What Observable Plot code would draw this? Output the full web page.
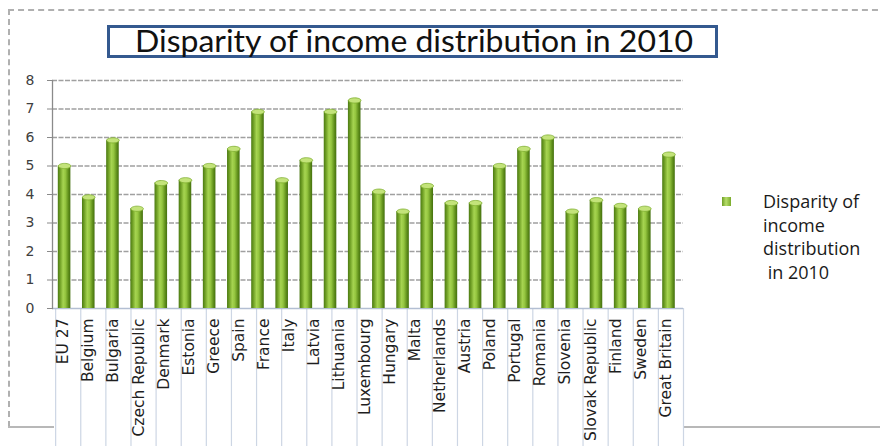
<!DOCTYPE html>
<html>
<head>
<meta charset="utf-8">
<script src="https://cdn.jsdelivr.net/npm/d3@7"></script>
<script src="https://cdn.jsdelivr.net/npm/@observablehq/plot@0.6"></script>
<style>
  body { margin: 0; background: #fff; }
  #wrap { position: relative; width: 880px; height: 446px; overflow: hidden; background: #fff; font-family: "Open Sans", sans-serif; }
  .bd { position: absolute; }
  #bTop { left: 8px; top: 9px; width: 880px; height: 0; border-top: 2px dashed #b0b0b0; }
  #bLeft { left: 8px; top: 9px; width: 0; height: 418px; border-left: 2px dashed #b0b0b0; }
  #bBot1 { left: 8px; top: 426px; width: 46px; height: 0; border-top: 2px solid #b8b8b8; }
  #bBot2 { left: 683px; top: 426px; width: 200px; height: 0; border-top: 2px solid #b8b8b8; }
  #chart { position: absolute; left: 0; top: 0; }
  #title { position: absolute; left: 107px; top: 25px; width: 605px; height: 27px; border: 3px solid #34598f; background: #fff; }
  #title svg { position: absolute; left: 0; top: 0; overflow: visible; }
  #legend { position: absolute; left: 722px; top: 190px; }
  #legend .sw { position: absolute; left: 0; top: 7px; width: 9px; height: 9px; background: linear-gradient(90deg,#6d9e25,#b6dd6a 45%,#7aab2c); }
  #legend .tx { position: absolute; left: 41px; top: 0; width: 150px; font-size: 18px; line-height: 23.5px; color: #1a1a1a; white-space: pre; }
</style>
</head>
<body>
<div id="wrap">
  <div class="bd" id="bTop"></div>
  <div class="bd" id="bLeft"></div>
  <div class="bd" id="bBot1"></div>
  <div class="bd" id="bBot2"></div>
  <div id="chart"></div>
  <div id="title"><svg width="605" height="27"><text id="titleText" x="25" y="24" font-family="Lato, 'Open Sans', sans-serif" font-size="31" fill="#111" textLength="558" lengthAdjust="spacingAndGlyphs"></text></svg></div>
  <div id="legend"><div class="sw"></div><div class="tx" id="legendText"></div></div>
</div>
<script>
// ---- data ----
const titleText = "Disparity of income distribution in 2010";
const seriesName = "Disparity of\nincome\ndistribution\n in 2010";
const labels = ["EU 27", "Belgium", "Bulgaria", "Czech Republic", "Denmark", "Estonia", "Greece", "Spain", "France", "Italy", "Latvia", "Lithuania", "Luxembourg", "Hungary", "Malta", "Netherlands", "Austria", "Poland", "Portugal", "Romania", "Slovenia", "Slovak Republic", "Finland", "Sweden", "Great Britain"];
const values = [5.0, 3.9, 5.9, 3.5, 4.4, 4.5, 5.0, 5.6, 6.9, 4.5, 5.2, 6.9, 7.3, 4.1, 3.4, 4.3, 3.7, 3.7, 5.0, 5.6, 6.0, 3.4, 3.8, 3.6, 3.5, 5.4];
const yTicks = [0, 1, 2, 3, 4, 5, 6, 7, 8];

document.getElementById("titleText").textContent = titleText;
document.getElementById("legendText").textContent = seriesName;

// category cells of the label table (index units of the x scale)
const xDomain = [-0.5, 25.6];
const cellStart = -0.37, cellEnd = 25.6;
const cellW = (cellEnd - cellStart) / labels.length;
const boundaries = d3.range(labels.length + 1).map(k => cellStart + k * cellW);

const half = 0.26;
const capSymbol = {
  draw(ctx) {
    const rx = 6.3, ry = 2.6, k = 0.5523;
    ctx.moveTo(rx, 0);
    ctx.bezierCurveTo(rx, ry * k, rx * k, ry, 0, ry);
    ctx.bezierCurveTo(-rx * k, ry, -rx, ry * k, -rx, 0);
    ctx.bezierCurveTo(-rx, -ry * k, -rx * k, -ry, 0, -ry);
    ctx.bezierCurveTo(rx * k, -ry, rx, -ry * k, rx, 0);
    ctx.closePath();
  }
};

const FONT = "DejaVu Sans";

const chart = Plot.plot({
  width: 880,
  height: 446,
  marginLeft: 52,
  marginRight: 197,
  marginTop: 80,
  marginBottom: 138,
  style: { fontFamily: FONT, fontSize: "15px", color: "#3a3a3a", background: "transparent", overflow: "visible" },
  x: { type: "linear", domain: xDomain },
  y: { domain: [0, 8] },
  marks: [
    Plot.ruleY(yTicks.filter(d => d > 0), { stroke: "#a0a0a0", strokeWidth: 1.4, strokeDasharray: "5,1.5" }),
    Plot.axisX(boundaries, { tickSize: 138, tickFormat: () => "", stroke: "#cdd6e4", strokeWidth: 1.2, label: null }),
    Plot.ruleY([0], { stroke: "#b3bfd3", strokeWidth: 1.6 }),
    Plot.axisY(yTicks, { tickSize: 5, tickPadding: 13, fontSize: 14, fontFamily: FONT, stroke: "#8a8a8a", fill: "#404040", label: null }),
    Plot.frame({ anchor: "left", stroke: "#8a8a8a", strokeWidth: 1.3 }),
    Plot.rectY(values, { x1: (d, i) => i - half, x2: (d, i) => i + half, y: d => d, fill: "url(#barGrad)" }),
    Plot.dot(values, { x: (d, i) => i, y: d => d, symbol: capSymbol, fill: "#c3e37a", stroke: "#7fae30", strokeWidth: 0.8 }),
    Plot.text(labels, { x: (d, i) => cellStart + cellW * (i + 0.5), text: d => d, frameAnchor: "bottom", rotate: -90, textAnchor: "end", dy: 10, fontSize: 15.5, fontFamily: FONT, fill: "#1e1e1e" })
  ]
});

d3.select(chart).insert("defs", ":first-child").html(`
  <linearGradient id="barGrad" x1="0" x2="1" y1="0" y2="0">
    <stop offset="0" stop-color="#4b7a12"/>
    <stop offset="0.18" stop-color="#6f9f25"/>
    <stop offset="0.42" stop-color="#a6d451"/>
    <stop offset="0.6" stop-color="#95c640"/>
    <stop offset="0.85" stop-color="#5e8d1a"/>
    <stop offset="1" stop-color="#44700f"/>
  </linearGradient>`);

document.getElementById("chart").appendChild(chart);
</script>
</body>
</html>
